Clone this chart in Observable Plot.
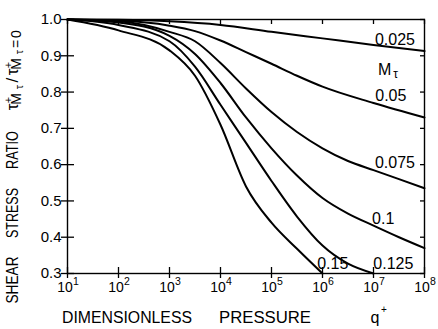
<!DOCTYPE html>
<html><head><meta charset="utf-8">
<script src="https://cdn.jsdelivr.net/npm/d3@7"></script>
<script src="https://cdn.jsdelivr.net/npm/@observablehq/plot@0.6"></script>
<style>body{margin:0;background:#fff;}</style>
</head><body><div id="chart"></div>
<script>
// ---- tick values and labels
const xTicks = [1e1, 1e2, 1e3, 1e4, 1e5, 1e6, 1e7, 1e8];
const xTickBase = "10";
const xTickExponents = ["1", "2", "3", "4", "5", "6", "7", "8"];
const yTicks = [0.3, 0.4, 0.5, 0.6, 0.7, 0.8, 0.9, 1.0];
const yTickLabels = ["0.3", "0.4", "0.5", "0.6", "0.7", "0.8", "0.9", "1.0"];

// ---- series (M_tau), x given as log10(q+), y = shear stress ratio
const seriesNames = ["0.025", "0.05", "0.075", "0.1", "0.125", "0.15"];
const exp025 = [1, 2, 3, 4, 5, 6, 7, 8];
const val025 = [1.0, 0.999, 0.995, 0.985, 0.966, 0.948, 0.93, 0.913];
const exp050 = [1, 2, 3, 3.5, 4, 4.5, 5, 5.5, 6, 7, 8];
const val050 = [1.0, 0.997, 0.983, 0.968, 0.942, 0.91, 0.878, 0.845, 0.815, 0.77, 0.73];
const exp075 = [1, 2, 3, 3.5, 4, 4.5, 5, 5.5, 6, 6.5, 7, 7.5, 8];
const val075 = [1.0, 0.995, 0.966, 0.94, 0.88, 0.81, 0.745, 0.69, 0.645, 0.61, 0.585, 0.56, 0.535];
const exp100 = [1, 2, 3, 3.5, 4, 4.5, 5, 5.5, 6, 6.5, 7, 7.5, 8];
const val100 = [1.0, 0.992, 0.955, 0.905, 0.825, 0.73, 0.645, 0.57, 0.508, 0.465, 0.432, 0.4, 0.37];
const exp125 = [1, 2, 3, 3.5, 4, 4.5, 5, 5.5, 6, 6.5, 7];
const val125 = [1.0, 0.985, 0.94, 0.87, 0.765, 0.66, 0.555, 0.457, 0.377, 0.327, 0.30];
const exp150 = [1, 2, 3, 3.5, 4, 4.5, 5, 5.5, 6];
const val150 = [1.0, 0.97, 0.915, 0.845, 0.71, 0.54, 0.44, 0.368, 0.30];

// ---- curve labels
const labelText = ["0.025", "M", "0.05", "0.075", "0.1", "0.15", "0.125"];
const labelExp = [7.42, 7.22, 7.34, 7.42, 7.19, 6.2, 7.39];
const labelVal = [0.945, 0.86, 0.79, 0.606, 0.45, 0.327, 0.327];

const expArrays = [exp025, exp050, exp075, exp100, exp125, exp150];
const valArrays = [val025, val050, val075, val100, val125, val150];
const rows = [];
seriesNames.forEach((s, k) => expArrays[k].forEach((e, i) => rows.push({q: 10 ** e, r: valArrays[k][i], s})));
const labels = labelText.map((t, i) => ({t, q: 10 ** labelExp[i], r: labelVal[i]}));
const subLabel = labels.filter(d => d.t === "M");

const font = "'Liberation Sans', Arial, Helvetica, sans-serif";
const chart = Plot.plot({
  width: 438, height: 329,
  marginLeft: 67, marginRight: 14, marginTop: 19, marginBottom: 56,
  style: {fontFamily: font, background: "#fff", color: "#000"},
  x: {type: "log", domain: [10, 1e8]},
  y: {domain: [0.3, 1.0]},
  marks: [
    Plot.line(rows, {x: "q", y: "r", z: "s", curve: "monotone-x", stroke: "#000", strokeWidth: 2}),
    Plot.frame({stroke: "#000", strokeWidth: 1.4}),
    // ticks (crossing at bottom & left, inward at top & right)
    Plot.axisX({anchor: "bottom", ticks: xTicks, tickSize: 5, tickFormat: () => "", label: null, strokeWidth: 1.3}),
    Plot.axisX({anchor: "bottom", ticks: xTicks, tickSize: -6, tickFormat: () => "", label: null, strokeWidth: 1.3}),
    Plot.axisX({anchor: "top", ticks: xTicks, tickSize: -4, tickFormat: () => "", label: null, strokeWidth: 1.3}),
    Plot.axisY({anchor: "left", ticks: yTicks, tickSize: 6, tickFormat: () => "", label: null, strokeWidth: 1.3}),
    Plot.axisY({anchor: "left", ticks: yTicks, tickSize: -7, tickFormat: () => "", label: null, strokeWidth: 1.3}),
    Plot.axisY({anchor: "right", ticks: yTicks, tickSize: -5, tickFormat: () => "", label: null, strokeWidth: 1.3}),
    // tick labels
    Plot.text(xTicks, {x: d => d, frameAnchor: "bottom", dy: 18, dx: -2.5, text: () => xTickBase, fontSize: 14, fill: "#000"}),
    Plot.text(xTicks, {x: d => d, frameAnchor: "bottom", dy: 11, dx: 8.5,
      text: d => xTickExponents[Math.round(Math.log10(d)) - 1], fontSize: 10.5, fill: "#000"}),
    Plot.text(yTicks, {y: d => d, frameAnchor: "left", dx: -6, textAnchor: "end",
      text: d => yTickLabels[yTicks.indexOf(d)], fontSize: 15, fill: "#000"}),
    // curve labels
    Plot.text(labels, {x: "q", y: "r", text: "t", fontSize: 16, fill: "#000"}),
    Plot.text(subLabel, {x: "q", y: "r", text: () => "τ", fontSize: 12, dx: 11, dy: 4, fill: "#000"})
  ]
});
document.getElementById("chart").appendChild(chart);

const svg = d3.select(chart);

// ---- axis titles
const xt = svg.append("g").attr("font-family", font).attr("fill", "#000");
xt.append("text").attr("x", 127).attr("y", 323).attr("font-size", 16)
  .attr("textLength", 130).attr("lengthAdjust", "spacingAndGlyphs").text("DIMENSIONLESS");
xt.append("text").attr("x", 265).attr("y", 323).attr("font-size", 16)
  .attr("textLength", 92).attr("lengthAdjust", "spacingAndGlyphs").text("PRESSURE");
xt.append("text").attr("x", 375).attr("y", 323).attr("font-size", 16).text("q");
xt.append("text").attr("x", 384).attr("y", 313).attr("font-size", 10).text("+");

const yt = svg.append("g").attr("font-family", font).attr("fill", "#000")
  .attr("transform", "translate(18,280) rotate(-90)");
const wordsY = [["SHEAR", 0, 47], ["STRESS", 67, 50], ["RATIO", 130, 38]];
wordsY.forEach(([w, x, l]) => yt.append("text").attr("x", x).attr("y", 0).attr("font-size", 16)
  .attr("textLength", l).attr("lengthAdjust", "spacingAndGlyphs").text(w));
const mathY = [
  ["τ", 173, 0, 17], ["+", 180, -6, 11], ["M", 181, 3, 14], ["τ", 193, 5, 11],
  ["/", 200, 0, 17], ["τ", 208, 0, 17], ["+", 215, -6, 11], ["M", 216, 3, 14], ["τ", 228, 5, 11],
  ["=", 236, 3, 14], ["0", 246, 3, 14]
];
mathY.forEach(([t, x, y, s]) => yt.append("text").attr("x", x).attr("y", y).attr("font-size", s).text(t));
</script>
</body></html>
